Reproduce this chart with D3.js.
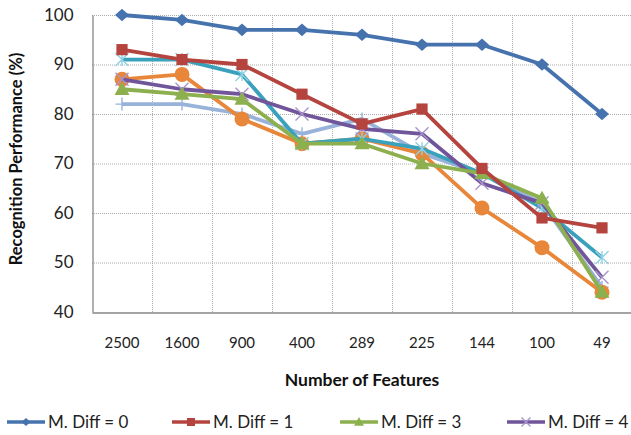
<!DOCTYPE html>
<html>
<head>
<meta charset="utf-8">
<script src="https://cdn.jsdelivr.net/npm/d3@7"></script>
<style>
  html, body { margin: 0; padding: 0; background: #fff; }
  svg { display: block; font-family: Lato, "Liberation Sans", Arial, sans-serif; }
</style>
</head>
<body>
<svg id="chart" width="631" height="435"></svg>
<script>
// Number of features on the x axis (ordinal, largest first)
const featureCounts = ["2500", "1600", "900", "400", "289", "225", "144", "100", "49"];
const yTicks = [40, 50, 60, 70, 80, 90, 100];

// Recognition performance (%) per series
const diff0 = [100, 99, 97, 97, 96, 94, 94, 90, 80];
const diff1 = [93, 91, 90, 84, 78, 81, 69, 59, 57];
const diff3 = [85, 84, 83, 74, 74, 70, 68, 63, 44];
const diff4 = [87, 85, 84, 80, 77, 76, 66, 62, 47];
const diffE = [91, 91, 88, 74, 75, 73, 68, 61, 51];
const diffF = [87, 88, 79, 74, 75, 72, 61, 53, 44];
const diffG = [82, 82, 80, 76, 79, 72, 68, 62, 45];

const seriesNames = ["M. Diff = 0", "M. Diff = 1", "M. Diff = 3", "M. Diff = 4", "", "", ""];
const seriesValues = [diff0, diff1, diff3, diff4, diffE, diffF, diffG];
const seriesColors = ["#4673AE", "#B5443F", "#8DB04E", "#71559A", "#3AA1BC", "#E8863A", "#98B2DA"];
const markerColors = ["#4673AE", "#B5443F", "#8DB04E", "#A894CC", "#8FD0E2", "#E8863A", "#98B2DA"];
const markerTypes = ["diamond", "square", "triangle", "x", "star", "circle", "plus"];

const svg = d3.select("#chart");
const plot = { left: 92, top: 15, right: 632, bottom: 312 };

const x = d3.scaleBand().domain(featureCounts).range([plot.left, plot.right]);
const y = d3.scaleLinear().domain([40, 100]).range([plot.bottom, plot.top]);

// dotted grid
const grid = svg.append("g");
grid.selectAll("line.h").data(yTicks.filter(v => v > 40)).join("line")
  .attr("x1", plot.left).attr("x2", plot.right)
  .attr("y1", d => y(d) + 0.5).attr("y2", d => y(d) + 0.5)
  .attr("stroke", "#ababab").attr("stroke-dasharray", "1,1");
grid.selectAll("line.v").data(featureCounts.slice(1)).join("line")
  .attr("x1", d => Math.round(x(d)) + 0.5).attr("x2", d => Math.round(x(d)) + 0.5)
  .attr("y1", plot.top).attr("y2", plot.bottom)
  .attr("stroke", "#ababab").attr("stroke-dasharray", "1,1");

// axes
const yAxis = svg.append("g").attr("transform", `translate(${plot.left + 0.5},0)`)
  .call(d3.axisLeft(y).tickValues(yTicks).tickSize(0).tickPadding(19));
const xAxis = svg.append("g").attr("transform", `translate(0,${plot.bottom + 0.5})`)
  .call(d3.axisBottom(x).tickSize(0).tickPadding(25));
[yAxis, xAxis].forEach(a => {
  a.select(".domain").attr("stroke", "#868686").attr("stroke-width", 1.3);
  a.selectAll("text").attr("font-family", "Lato, Liberation Sans, Arial, sans-serif")
    .attr("fill", "#222");
});
yAxis.selectAll("text").attr("font-size", 17);
xAxis.selectAll("text").attr("font-size", 15);

// axis titles
svg.append("text").attr("x", 362).attr("y", 386).attr("text-anchor", "middle")
  .attr("font-size", 17.5).attr("font-weight", "bold").attr("fill", "#111")
  .text("Number of Features");
svg.append("text").attr("transform", "translate(22,159) rotate(-90)").attr("text-anchor", "middle")
  .attr("font-size", 16.5).attr("font-weight", "bold").attr("fill", "#111")
  .text("Recognition Performance (%)");

// marker drawing
function drawMarker(g, type, cx, cy, s, fill, stroke) {
  const h = s / 2;
  switch (type) {
    case "diamond":
      g.append("path").attr("d", `M${cx},${cy - h * 0.9}L${cx + h},${cy}L${cx},${cy + h * 0.9}L${cx - h},${cy}Z`).attr("fill", fill);
      break;
    case "square":
      g.append("rect").attr("x", cx - h * 0.8).attr("y", cy - h * 0.8)
        .attr("width", s * 0.8).attr("height", s * 0.8).attr("fill", fill);
      break;
    case "triangle":
      g.append("path").attr("d", `M${cx},${cy - h}L${cx + h},${cy + h * 0.75}L${cx - h},${cy + h * 0.75}Z`).attr("fill", fill);
      break;
    case "circle":
      g.append("circle").attr("cx", cx).attr("cy", cy).attr("r", h).attr("fill", fill);
      break;
    case "x":
      g.append("path").attr("d", `M${cx - h},${cy - h}L${cx + h},${cy + h}M${cx - h},${cy + h}L${cx + h},${cy - h}`)
        .attr("stroke", stroke).attr("stroke-width", 1.4).attr("fill", "none");
      break;
    case "star":
      g.append("path").attr("d", `M${cx - h},${cy - h}L${cx + h},${cy + h}M${cx - h},${cy + h}L${cx + h},${cy - h}M${cx},${cy - h}L${cx},${cy + h}`)
        .attr("stroke", stroke).attr("stroke-width", 1.4).attr("fill", "none");
      break;
    case "plus":
      g.append("path").attr("d", `M${cx - h},${cy}L${cx + h},${cy}M${cx},${cy - h}L${cx},${cy + h}`)
        .attr("stroke", stroke).attr("stroke-width", 1.4).attr("fill", "none");
      break;
  }
}

const line = d3.line().x((d, i) => x(featureCounts[i]) + x.bandwidth() / 2).y(d => y(d));

// series drawn last-first so the first series sits on top
const order = [6, 5, 4, 3, 2, 1, 0];
const sizes = { diamond: 14, square: 14, triangle: 15, circle: 15, x: 13, star: 13, plus: 13 };
order.forEach(si => {
  const g = svg.append("g");
  g.append("path").datum(seriesValues[si]).attr("d", line)
    .attr("fill", "none").attr("stroke", seriesColors[si]).attr("stroke-width", 3.8)
    .attr("stroke-linejoin", "round");
  seriesValues[si].forEach((v, i) => {
    drawMarker(g, markerTypes[si], x(featureCounts[i]) + x.bandwidth() / 2, y(v),
      sizes[markerTypes[si]], seriesColors[si], markerColors[si]);
  });
});

// legend (first row)
const legendX = [7, 172, 340, 507];
const legendY = 422;
legendX.forEach((lx, i) => {
  const g = svg.append("g");
  g.append("line").attr("x1", lx).attr("x2", lx + 38).attr("y1", legendY).attr("y2", legendY)
    .attr("stroke", seriesColors[i]).attr("stroke-width", 3.5);
  const sz = { diamond: 9, square: 10, triangle: 10, x: 9 }[markerTypes[i]];
  drawMarker(g, markerTypes[i], lx + 19, legendY, sz, seriesColors[i], markerColors[i]);
  g.append("text").attr("x", lx + 41).attr("y", legendY + 6)
    .attr("font-size", 17).attr("fill", "#222").text(seriesNames[i]);
});
</script>
</body>
</html>
